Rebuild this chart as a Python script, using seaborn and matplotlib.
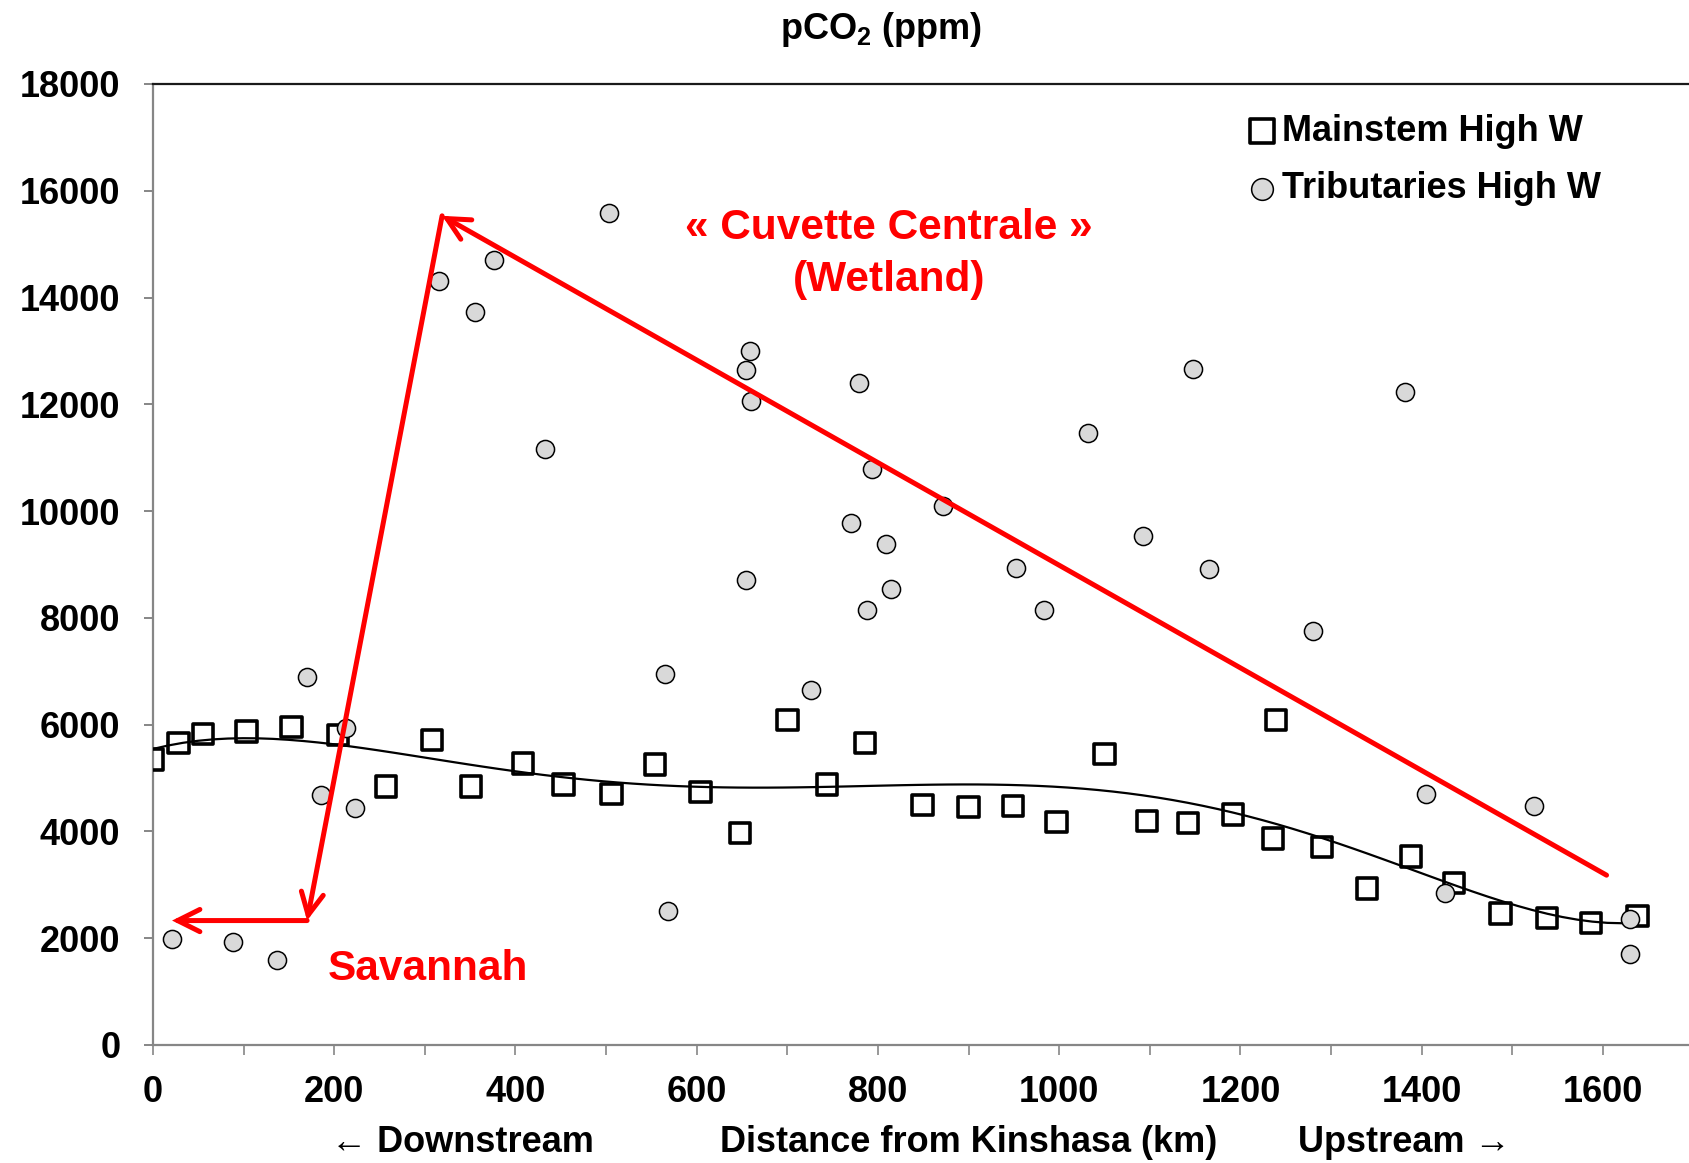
import numpy as np
import pandas as pd
import matplotlib
matplotlib.use("Agg")
import matplotlib.pyplot as plt
import seaborn as sns
from matplotlib.ticker import MultipleLocator

# ---- data ----
main_km = [0, 28, 55, 103, 153, 204, 257, 308, 351, 408, 453, 506, 554, 604, 648,
           700, 744, 786, 849, 900, 949, 997, 1050, 1097, 1142, 1192, 1239, 1236,
           1290, 1340, 1388, 1436, 1487, 1538, 1587, 1638]
main_pco2 = [5350, 5650, 5830, 5870, 5950, 5810, 4840, 5710, 4840, 5270, 4880, 4700,
             5250, 4740, 3975, 6090, 4880, 5650, 4500, 4460, 4480, 4180, 5450, 4200,
             4160, 4320, 6090, 3870, 3710, 2930, 3530, 3030, 2460, 2380, 2280, 2420]

trib_km = [21, 88, 137, 170, 185, 213, 223, 316, 355, 376, 433, 503, 565, 568, 654,
           659, 660, 654, 726, 770, 779, 788, 793, 809, 814, 872, 952, 983, 1032,
           1092, 1148, 1165, 1280, 1382, 1405, 1426, 1524, 1630, 1630]
trib_pco2 = [1980, 1920, 1590, 6900, 4680, 5930, 4440, 14310, 13720, 14710, 11160,
             15580, 6940, 2500, 12650, 13000, 12070, 8700, 6640, 9770, 12390, 8150,
             10780, 9380, 8540, 10090, 8940, 8150, 11460, 9530, 12670, 8920, 7750,
             12230, 4700, 2850, 4480, 2360, 1700]

# red annotation path (km, ppm): wetland arrow, savannah arrows
wet_start = (1604, 3180)
wet_peak = (319, 15530)
sav_corner = (170, 2330)
sav_end = (21, 2330)

y_ticks = list(range(0, 18001, 2000))
x_ticks = list(range(0, 1601, 200))

# ---- style ----
sns.set_theme(style="white")
plt.rcParams["font.family"] = ["Liberation Sans", "DejaVu Sans"]
plt.rcParams["font.weight"] = "bold"
plt.rcParams["text.color"] = "black"
plt.rcParams["axes.labelcolor"] = "black"
plt.rcParams["xtick.color"] = "black"
plt.rcParams["ytick.color"] = "black"
plt.rcParams["mathtext.fontset"] = "custom"
plt.rcParams["mathtext.rm"] = "Liberation Sans:bold"
plt.rcParams["mathtext.bf"] = "Liberation Sans:bold"
plt.rcParams["mathtext.it"] = "Liberation Sans:bold"

fig = plt.figure(figsize=(16.89, 11.63), dpi=100)
ax = fig.add_axes([0.0906, 0.1015, 0.9094, 0.8263])

df_main = pd.DataFrame({"km": main_km, "pco2": main_pco2})
df_trib = pd.DataFrame({"km": trib_km, "pco2": trib_pco2})

sns.regplot(data=df_main, x="km", y="pco2", order=6, ci=None, scatter=False,
            line_kws=dict(color="black", lw=1.6, zorder=2), ax=ax)
sns.scatterplot(data=df_main, x="km", y="pco2", marker="s", s=215,
                facecolor="none", edgecolor="black", linewidth=2.6,
                label="Mainstem High W", ax=ax, zorder=3)
sns.scatterplot(data=df_trib, x="km", y="pco2", marker="o", s=170,
                color="#d9d9d9", edgecolor="black", linewidth=1.1,
                label="Tributaries High W", ax=ax, zorder=4)

red = "#ff0000"
akw = dict(arrowstyle="->", color=red, lw=3.6, mutation_scale=40,
           shrinkA=0, shrinkB=0, joinstyle="miter")
for a, b in [(wet_start, wet_peak), (wet_peak, sav_corner), (sav_corner, sav_end)]:
    ax.annotate("", xy=b, xytext=a, xycoords="data", arrowprops=akw, zorder=5)

ax.text(812, 15300, "« Cuvette Centrale »", color=red, fontsize=30.5,
        fontweight="bold", ha="center", va="center", zorder=6)
ax.text(812, 14330, "(Wetland)", color=red, fontsize=30.5,
        fontweight="bold", ha="center", va="center", zorder=6)
ax.text(303, 1420, "Savannah", color=red, fontsize=30.5,
        fontweight="bold", ha="center", va="center", zorder=6)

ax.set_xlim(0, 1695)
ax.set_ylim(0, 18000)
ax.set_yticks(y_ticks)
ax.set_xticks(x_ticks)
ax.xaxis.set_minor_locator(MultipleLocator(100))
ax.set_xlabel("")
ax.set_ylabel("")

gray = "#868686"
for s in ["left", "bottom"]:
    ax.spines[s].set_color(gray)
    ax.spines[s].set_linewidth(1.6)
ax.spines["top"].set_color("#1a1a1a")
ax.spines["top"].set_linewidth(1.6)
ax.spines["right"].set_visible(False)

ax.tick_params(axis="y", which="major", direction="out", length=6.5, width=1.4,
               color=gray, labelcolor="black", pad=17, labelsize=26, left=True)
ax.tick_params(axis="x", which="both", direction="out", length=7.5, width=1.2,
               color=gray, labelcolor="black", pad=14, labelsize=26, bottom=True)
for lab in ax.get_xticklabels() + ax.get_yticklabels():
    lab.set_fontweight("bold")
    lab.set_color("black")

leg = ax.legend(loc="upper left", bbox_to_anchor=(0.715, 0.969), frameon=False,
                fontsize=26, handlelength=0.6, handletextpad=0.25, markerscale=1.2,
                labelspacing=0.62, borderpad=0, borderaxespad=0)
for t in leg.get_texts():
    t.set_fontweight("bold")
    t.set_color("black")

fig.text(0.5216, 0.975, r"pCO$_\mathbf{2}$ (ppm)", fontsize=26, fontweight="bold",
         ha="center", va="center", color="black")
fig.text(0.274, 0.018, "← Downstream", fontsize=26, fontweight="bold",
         ha="center", va="center", color="black")
fig.text(0.5737, 0.018, "Distance from Kinshasa (km)", fontsize=26,
         fontweight="bold", ha="center", va="center", color="black")
fig.text(0.8313, 0.018, "Upstream →", fontsize=26, fontweight="bold",
         ha="center", va="center", color="black")

fig.savefig("out.png", dpi=100)
